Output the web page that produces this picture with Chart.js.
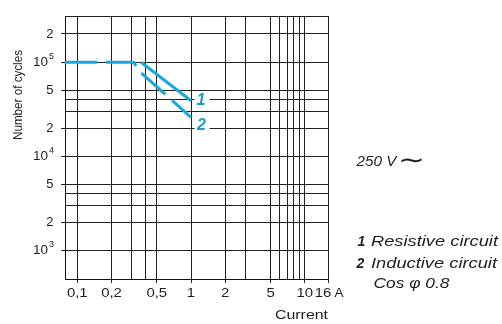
<!DOCTYPE html>
<html>
<head>
<meta charset="utf-8">
<script src="https://cdn.jsdelivr.net/npm/chart.js@4/dist/chart.umd.min.js"></script>
<style>
  html, body { margin: 0; padding: 0; background: #fff; }
  #wrap { width: 502px; height: 324px; position: relative; }
</style>
</head>
<body>
<div id="wrap"><canvas id="cyclesChart"></canvas></div>
<script>
// axis ranges and ticks
const currentMin = 0.078;
const currentMax = 16;
const cyclesMin = 500;
const cyclesMax = 310000;

const currentTicks = [0.1, 0.2, 0.3, 0.4, 0.5, 1, 2, 3, 5, 6, 7, 8, 9, 10, 16];
const currentLabels = ['0,1', '0,2', '', '', '0,5', '1', '2', '', '5', '', '', '', '', '10', '16'];

const cycleTicks = [1000, 2000, 3000, 4000, 5000, 10000, 20000, 30000, 40000, 50000, 100000, 200000];
const cycleLabels = ['10^3', '2', '', '', '5', '10^4', '2', '', '', '5', '10^5', '2'];

// curve 1: resistive circuit
const resistiveCurrent = [0.364, 1];
const resistiveCycles = [100000, 39000];

// curve 2: inductive circuit (dashed, shares the flat part)
const inductiveCurrent = [0.078, 0.312, 0.364, 1];
const inductiveCycles = [100000, 100000, 77000, 26000];

const CYAN = '#1ba6dd';
const LABEL_CYAN = '#159dd2';
const TEXT = '#1e1e1e';

function toPoints(xs, ys) {
  return xs.map((x, i) => ({ x: x, y: ys[i] }));
}

// draw text squeezed/stretched to a given width
function fitText(ctx, s, x, y, font, width, align) {
  ctx.save();
  ctx.font = font;
  ctx.textBaseline = 'middle';
  ctx.textAlign = 'left';
  const w = ctx.measureText(s).width;
  const sx = width ? width / w : 1;
  const real = w * sx;
  let left = x;
  if (align === 'center') left = x - real / 2;
  if (align === 'right') left = x - real;
  ctx.translate(left, y);
  ctx.scale(sx, 1);
  ctx.fillText(s, 0, 0);
  ctx.restore();
}

const textPlugin = {
  id: 'texts',
  afterDraw(chart) {
    const ctx = chart.ctx;
    const xs = chart.scales.x;
    const ys = chart.scales.y;
    ctx.save();
    ctx.fillStyle = TEXT;

    // y tick labels
    cycleTicks.forEach((v, i) => {
      const lab = cycleLabels[i];
      if (!lab) return;
      const py = ys.getPixelForValue(v);
      if (lab.indexOf('^') > 0) {
        const parts = lab.split('^');
        fitText(ctx, parts[0], 48, py, '13px "Liberation Sans", Arial, sans-serif', 15, 'right');
        fitText(ctx, parts[1], 49, py - 6, '9px "Liberation Sans", Arial, sans-serif', 0, 'left');
      } else {
        fitText(ctx, lab, 53.5, py, '13px "Liberation Sans", Arial, sans-serif', 0, 'right');
      }
    });

    // x tick labels
    const bottom = chart.chartArea.bottom;
    currentTicks.forEach((v, i) => {
      const lab = currentLabels[i];
      if (!lab) return;
      let px = xs.getPixelForValue(v);
      if (v === currentMax) px -= 5;
      ctx.save();
      ctx.font = '13px "Liberation Sans", Arial, sans-serif';
      const w = ctx.measureText(lab).width * 1.15;
      ctx.restore();
      fitText(ctx, lab, px, bottom + 14.5, '13px "Liberation Sans", Arial, sans-serif', w, 'center');
    });
    fitText(ctx, 'A', 339, bottom + 14.5, '13px "Liberation Sans", Arial, sans-serif', 9, 'center');

    // axis titles
    fitText(ctx, 'Current', 301.5, 315, '13px "Liberation Sans", Arial, sans-serif', 53, 'center');
    ctx.save();
    ctx.translate(18, 95);
    ctx.rotate(-Math.PI / 2);
    fitText(ctx, 'Number of cycles', 0, 0, '13px "Liberation Sans", Arial, sans-serif', 90, 'center');
    ctx.restore();

    // curve labels next to the end points
    const endX = xs.getPixelForValue(1);
    const y1 = ys.getPixelForValue(40000);
    const y2 = ys.getPixelForValue(20000);
    ctx.fillStyle = '#fff';
    ctx.fillRect(endX + 3.5, y1 - 6, 15, 12);
    ctx.fillRect(endX + 3.5, y2 - 9, 15, 13);
    ctx.fillStyle = LABEL_CYAN;
    fitText(ctx, '1', endX + 10, y1 + 0.5, 'italic bold 16px "Liberation Sans", Arial, sans-serif', 0, 'center');
    fitText(ctx, '2', endX + 10.5, y2 - 3, 'italic bold 16px "Liberation Sans", Arial, sans-serif', 0, 'center');

    // side notes
    ctx.fillStyle = TEXT;
    fitText(ctx, '250 V', 356.5, 162.5, 'italic 14px "Liberation Sans", Arial, sans-serif', 40, 'left');
    fitText(ctx, '\u223C', 398, 162, '24px "DejaVu Sans", sans-serif', 27, 'left');

    fitText(ctx, '1', 357.5, 242.5, 'italic bold 14px "Liberation Sans", Arial, sans-serif', 0, 'left');
    fitText(ctx, 'Resistive circuit', 371, 242.5, 'italic 14px "Liberation Sans", Arial, sans-serif', 127, 'left');
    fitText(ctx, '2', 356.5, 264, 'italic bold 14px "Liberation Sans", Arial, sans-serif', 0, 'left');
    fitText(ctx, 'Inductive circuit', 371, 264, 'italic 14px "Liberation Sans", Arial, sans-serif', 126, 'left');
    fitText(ctx, 'Cos \u03C6 0.8', 373.5, 284.5, 'italic 14px "Liberation Sans", Arial, sans-serif', 76, 'left');

    ctx.restore();
  }
};

const labelledX = (v) => currentLabels[currentTicks.indexOf(v)];
const labelledY = (v) => cycleLabels[cycleTicks.indexOf(v)];

const ctx = document.getElementById('cyclesChart').getContext('2d');
new Chart(ctx, {
  type: 'scatter',
  data: {
    datasets: [
      {
        label: '1 Resistive circuit',
        data: toPoints(resistiveCurrent, resistiveCycles),
        showLine: true,
        borderColor: CYAN,
        borderWidth: 3,
        pointRadius: 0,
        tension: 0,
      },
      {
        label: '2 Inductive circuit',
        data: toPoints(inductiveCurrent, inductiveCycles),
        showLine: true,
        borderColor: CYAN,
        borderWidth: 3,
        borderDash: [32, 9],
        pointRadius: 0,
        tension: 0,
      },
    ],
  },
  options: {
    responsive: true,
    maintainAspectRatio: false,
    animation: false,
    events: [],
    layout: { padding: { left: 0, top: 16, right: 174, bottom: 0 } },
    plugins: {
      legend: { display: false },
      tooltip: { enabled: false },
    },
    scales: {
      x: {
        type: 'logarithmic',
        min: currentMin,
        max: currentMax,
        afterBuildTicks: (scale) => {
          scale.ticks = [currentMin, ...currentTicks].map(v => ({ value: v }));
        },
        afterFit: (scale) => { scale.height = 45; },
        ticks: { display: false },
        grid: {
          color: '#222',
          lineWidth: 1,
          drawTicks: true,
          tickLength: 4,
          tickColor: (c) => (c.tick && labelledX(c.tick.value)) ? '#222' : 'rgba(0,0,0,0)',
        },
        border: { display: true, color: '#111', width: 1 },
      },
      y: {
        type: 'logarithmic',
        min: cyclesMin,
        max: cyclesMax,
        afterBuildTicks: (scale) => {
          scale.ticks = [cyclesMin, ...cycleTicks, cyclesMax].map(v => ({ value: v }));
        },
        afterFit: (scale) => { scale.width = 65; },
        ticks: { display: false },
        grid: {
          color: '#222',
          lineWidth: 1,
          drawTicks: true,
          tickLength: 4,
          tickColor: (c) => (c.tick && labelledY(c.tick.value)) ? '#222' : 'rgba(0,0,0,0)',
        },
        border: { display: true, color: '#111', width: 1 },
      },
    },
  },
  plugins: [textPlugin],
});
</script>
</body>
</html>
